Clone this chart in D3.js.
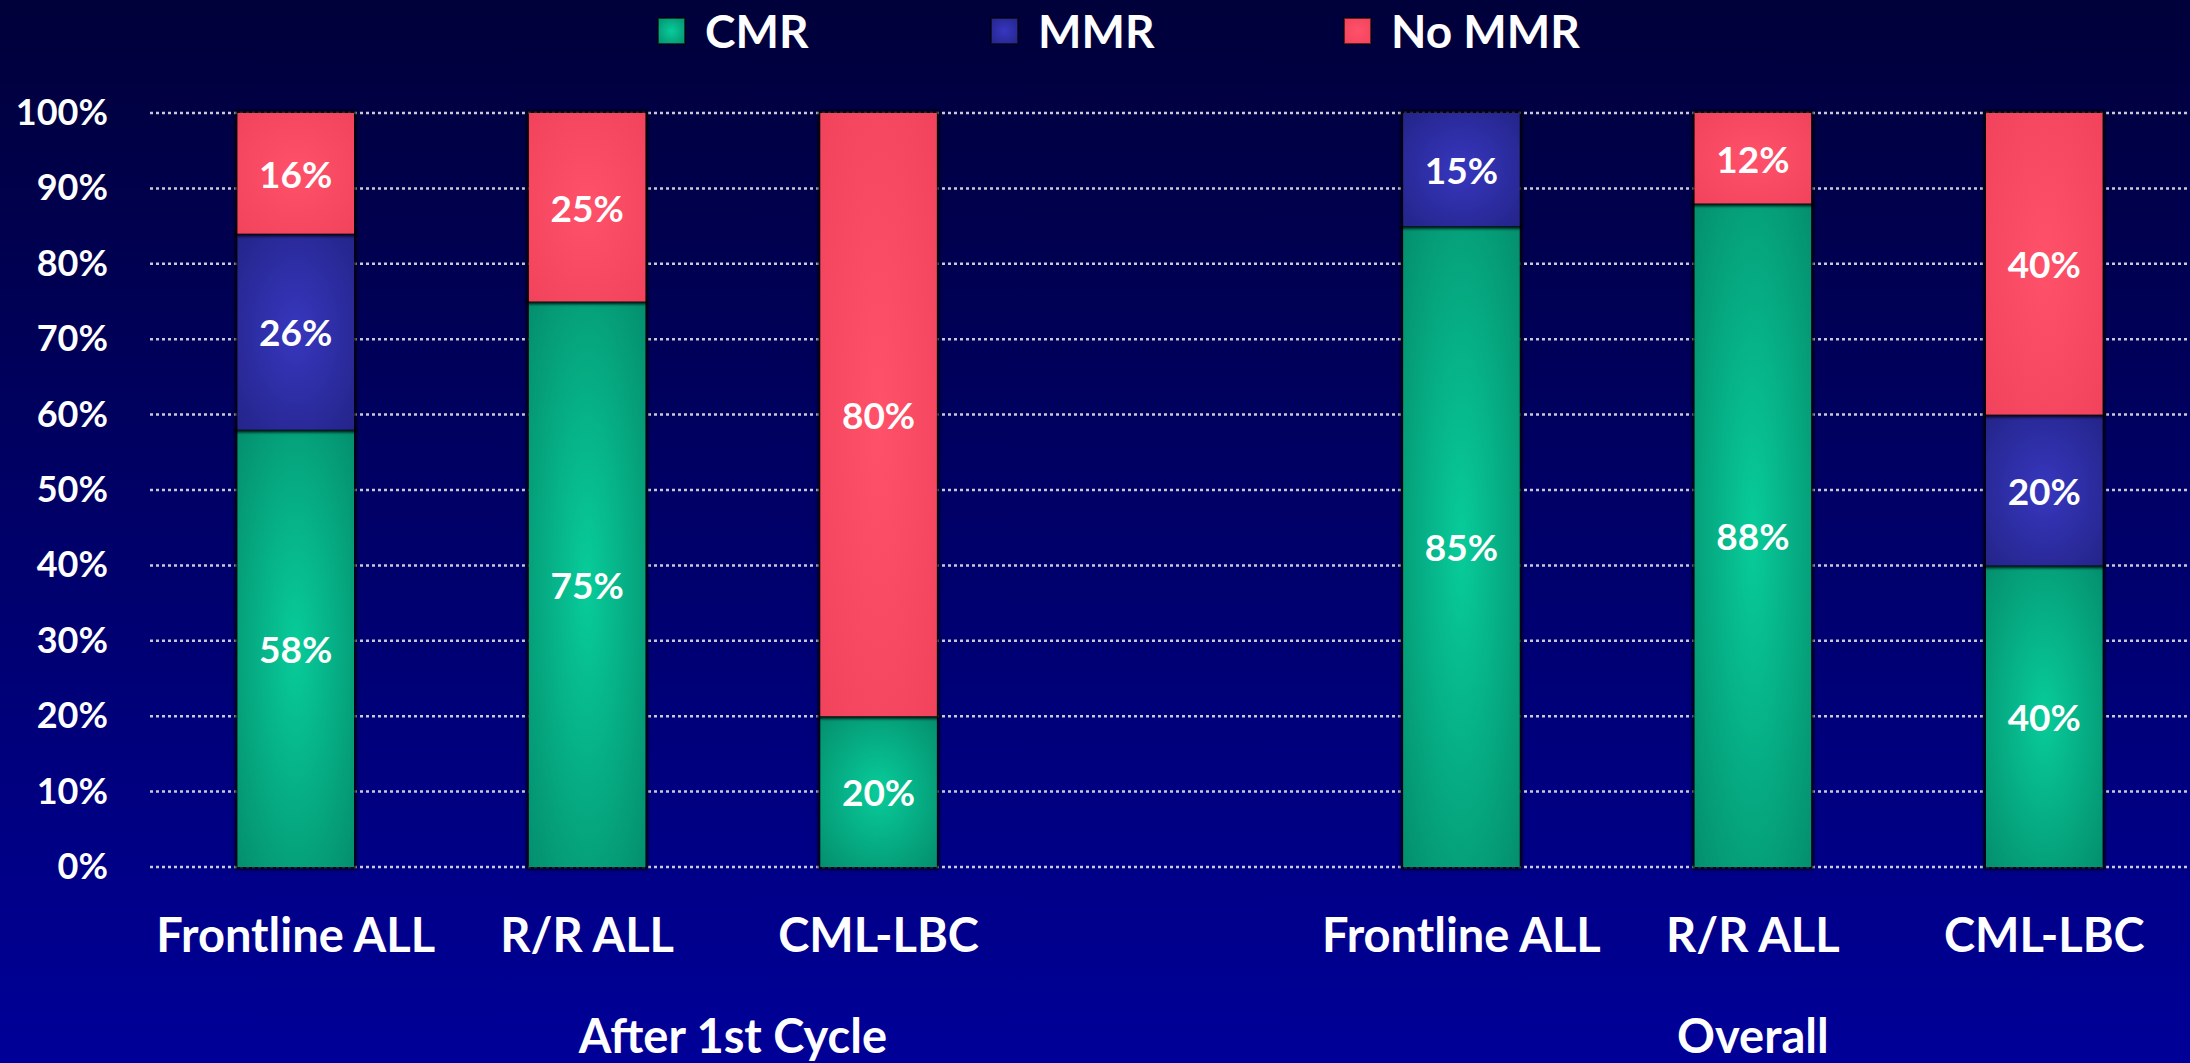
<!DOCTYPE html>
<html>
<head>
<meta charset="utf-8">
<script src="https://cdn.jsdelivr.net/npm/d3@7"></script>
<style>
  body { margin: 0; background: #000060; }
  text { font-family: Lato, "Open Sans", sans-serif; font-weight: 700; fill: #fff; }
</style>
</head>
<body>
<svg id="chart"></svg>
<script>
var width = 2190, height = 1063

// values
var categoryLabels = ["Frontline ALL", "R/R ALL", "CML-LBC", "Frontline ALL", "R/R ALL", "CML-LBC"]
var groupLabels = ["After 1st Cycle", "Overall"]
var series = ["CMR", "MMR", "No MMR"]
var cmr = [58, 75, 20, 85, 88, 40]
var mmr = [26, 0, 0, 15, 0, 20]
var noMmr = [16, 25, 80, 0, 12, 40]
var yTicks = [0, 10, 20, 30, 40, 50, 60, 70, 80, 90, 100]

// slot 3 is the empty gap between the two groups
var slots = [0, 1, 2, 4, 5, 6]

var svg = d3.select("#chart")
    .attr("width", width)
    .attr("height", height)

var defs = svg.append("defs")

var bg = defs.append("linearGradient")
    .attr("id", "bg")
    .attr("x1", 0).attr("y1", 0).attr("x2", 0).attr("y2", 1)
bg.append("stop").attr("offset", "0%").attr("stop-color", "#00003a")
bg.append("stop").attr("offset", "100%").attr("stop-color", "#000098")

var fills = {
    "CMR": ["#08cc9a", "#048f6e"],
    "MMR": ["#3737bf", "#24248a"],
    "No MMR": ["#ff5169", "#f2435c"]
}
series.forEach(function(s, i) {
    var g = defs.append("radialGradient")
        .attr("id", "fill" + i)
        .attr("cx", "50%").attr("cy", "50%").attr("r", "70%")
    g.append("stop").attr("offset", "0%").attr("stop-color", fills[s][0])
    g.append("stop").attr("offset", "100%").attr("stop-color", fills[s][1])
})

var shadow = defs.append("filter")
    .attr("id", "edge")
    .attr("x", "-10%").attr("y", "-10%").attr("width", "120%").attr("height", "120%")
shadow.append("feGaussianBlur").attr("stdDeviation", 1.4)

svg.append("rect")
    .attr("width", width)
    .attr("height", height)
    .attr("fill", "url(#bg)")

var x = d3.scaleBand()
    .domain(d3.range(7))
    .range([150, 2190])
    .paddingInner(0.6)
    .paddingOuter(0.3)

var y = d3.scaleLinear()
    .domain([0, 100])
    .range([867, 113])

// gridlines
svg.append("g")
    .selectAll("line")
    .data(yTicks)
    .enter()
    .append("line")
    .attr("x1", 150)
    .attr("x2", width)
    .attr("y1", d => y(d))
    .attr("y2", d => y(d))
    .attr("stroke", "#c9c9d6")
    .attr("stroke-width", 2.5)
    .attr("stroke-dasharray", "3,3")

var yAxis = svg.append("g")
    .attr("transform", "translate(150,0)")
    .call(d3.axisLeft(y).tickValues(yTicks).tickSize(0).tickPadding(42).tickFormat(d => d + "%"))
yAxis.select(".domain").remove()
yAxis.selectAll("text")
    .attr("fill", "#fff")
    .style("font-family", "Lato, sans-serif")
    .style("font-weight", 700)
    .style("font-size", "36px")

var rows = categoryLabels.map(function(c, i) {
    return {slot: slots[i], "CMR": cmr[i], "MMR": mmr[i], "No MMR": noMmr[i]}
})
var stacked = d3.stack().keys(series)(rows)

var layers = svg.append("g")
    .selectAll("g")
    .data(stacked)
    .enter()
    .append("g")

var segs = layers.selectAll("g")
    .data(d => d.filter(p => p[1] - p[0] > 0).map(p => ({p: p, key: d.key, idx: d.index})))
    .enter()
    .append("g")

segs.append("rect")
    .attr("x", d => x(d.p.data.slot))
    .attr("y", d => y(d.p[1]))
    .attr("width", x.bandwidth())
    .attr("height", d => y(d.p[0]) - y(d.p[1]))
    .attr("fill", "none")
    .attr("stroke", "#000")
    .attr("stroke-opacity", 0.9)
    .attr("stroke-width", 5)
    .attr("filter", "url(#edge)")

segs.append("rect")
    .attr("x", d => x(d.p.data.slot))
    .attr("y", d => y(d.p[1]))
    .attr("width", x.bandwidth())
    .attr("height", d => y(d.p[0]) - y(d.p[1]))
    .attr("fill", d => "url(#fill" + d.idx + ")")

segs.append("text")
    .attr("x", d => x(d.p.data.slot) + x.bandwidth() / 2)
    .attr("y", d => y((d.p[0] + d.p[1]) / 2))
    .attr("text-anchor", "middle")
    .attr("dominant-baseline", "central")
    .style("font-size", "37px")
    .text(d => (d.p[1] - d.p[0]) + "%")

// category labels
svg.append("g")
    .selectAll("text")
    .data(categoryLabels)
    .enter()
    .append("text")
    .attr("x", (d, i) => x(slots[i]) + x.bandwidth() / 2)
    .attr("y", 952)
    .attr("text-anchor", "middle")
    .style("font-size", "47px")
    .text(d => d)

// group labels
var groupX = [
    (x(1) + x(2)) / 2 + x.bandwidth() / 2,
    x(5) + x.bandwidth() / 2
]
svg.append("g")
    .selectAll("text")
    .data(groupLabels)
    .enter()
    .append("text")
    .attr("x", (d, i) => groupX[i])
    .attr("y", 1053)
    .attr("text-anchor", "middle")
    .style("font-size", "47px")
    .text(d => d)

// legend
var legendX = [658, 991, 1344]
var legend = svg.append("g")
    .selectAll("g")
    .data(series)
    .enter()
    .append("g")
    .attr("transform", (d, i) => "translate(" + legendX[i] + ",18)")

legend.append("rect")
    .attr("width", 27)
    .attr("height", 26)
    .attr("fill", (d, i) => "url(#fill" + i + ")")
    .attr("stroke", "#000")
    .attr("stroke-opacity", 0.6)
    .attr("stroke-width", 2)

legend.append("text")
    .attr("x", 47)
    .attr("y", 30)
    .style("font-size", "46px")
    .text(d => d)
</script>
</body>
</html>
